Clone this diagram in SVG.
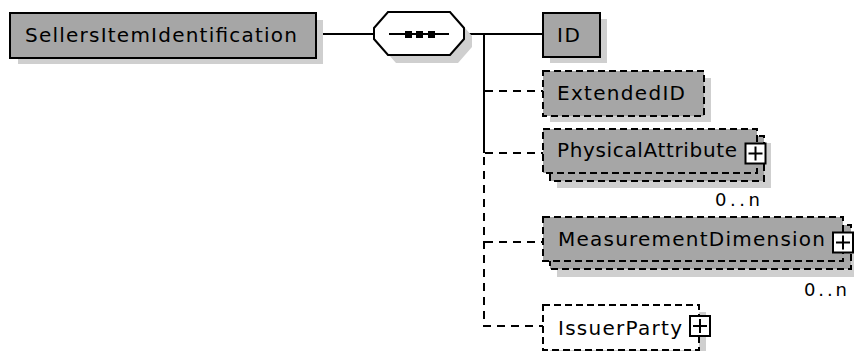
<svg xmlns="http://www.w3.org/2000/svg" width="854" height="351" viewBox="0 0 854 351">
<style>
.bg{fill:#ffffff}
.sh{fill:#cfcfcf;stroke:none}
.box{fill:#a6a6a6;stroke:#000;stroke-width:2}
.wbox{fill:#ffffff;stroke:#000;stroke-width:2}
.dash{stroke-dasharray:7 4}
.conn{stroke:#000;stroke-width:2;fill:none}
.dconn{stroke:#000;stroke-width:2;fill:none;stroke-dasharray:8 6}
.lbl{font-family:"DejaVu Sans","Liberation Sans",sans-serif;font-size:20px;fill:#000}
.occ{font-family:"DejaVu Sans","Liberation Sans",sans-serif;font-size:18px;fill:#000}
.plus{fill:#fff;stroke:#000;stroke-width:2}
.pl{stroke:#000;stroke-width:2}
</style>
<defs>
<g id="plusIcon">
<rect class="plus" x="-10" y="-10" width="20" height="20"/>
<line class="pl" x1="-7" y1="0" x2="7" y2="0"/>
<line class="pl" x1="0" y1="-7" x2="0" y2="7"/>
</g>
</defs>
<rect class="bg" x="0" y="0" width="854" height="351"/>

<g id="connectors">
<line class="conn" x1="316" y1="34" x2="374" y2="34"/>
<line class="conn" x1="464" y1="34" x2="543" y2="34"/>
<line class="conn" x1="484" y1="33" x2="484" y2="153"/>
<line class="dconn" x1="484" y1="157" x2="484" y2="326"/>
<line class="dconn" x1="485" y1="91" x2="543" y2="91"/>
<line class="dconn" x1="485" y1="153" x2="543" y2="153"/>
<line class="dconn" x1="485" y1="242" x2="543" y2="242"/>
<line class="dconn" x1="483" y1="326" x2="543" y2="326"/>
</g>

<g id="SellersItemIdentification">
<rect class="sh" x="18" y="20" width="305" height="44"/>
<rect class="box" x="10" y="13" width="306" height="45"/>
<text class="lbl" x="25" y="42" textLength="272" lengthAdjust="spacing">SellersItemIdentification</text>
</g>

<g id="sequence">
<polygon class="sh" points="382,36 396,20 458,20 472,36 472,47 458,63 396,63 382,47"/>
<polygon class="wbox" points="374,28 388,12 450,12 464,28 464,39 450,55 388,55 374,39"/>
<line class="conn" x1="389" y1="34" x2="449" y2="34"/>
<rect x="405" y="31" width="7" height="7" fill="#000"/>
<rect x="416" y="31" width="7" height="7" fill="#000"/>
<rect x="428" y="31" width="7" height="7" fill="#000"/>
</g>

<g id="ID">
<rect class="sh" x="550" y="19" width="57" height="44"/>
<rect class="box" x="543" y="13" width="57" height="44"/>
<text class="lbl" x="557" y="42" textLength="23" lengthAdjust="spacing">ID</text>
</g>

<g id="ExtendedID">
<rect class="sh" x="550" y="78" width="161" height="44"/>
<rect class="box dash" x="543" y="71" width="161" height="45"/>
<text class="lbl" x="557" y="100" textLength="128" lengthAdjust="spacing">ExtendedID</text>
</g>

<g id="PhysicalAttribute">
<rect class="sh" x="557" y="143" width="214" height="45"/>
<rect class="box dash" x="550" y="136" width="214" height="45"/>
<rect class="box dash" x="543" y="129" width="214" height="44"/>
<text class="lbl" x="557" y="157" textLength="180" lengthAdjust="spacing">PhysicalAttribute</text>
<use href="#plusIcon" x="755.5" y="153.5"/>
<text class="occ" x="715" y="206" textLength="45" lengthAdjust="spacing">0..n</text>
</g>

<g id="MeasurementDimension">
<rect class="sh" x="557" y="232" width="300" height="45"/>
<rect class="box dash" x="550" y="225" width="301" height="44"/>
<rect class="box dash" x="543" y="217" width="300" height="44"/>
<text class="lbl" x="558" y="246" textLength="267" lengthAdjust="spacing">MeasurementDimension</text>
<use href="#plusIcon" x="843" y="242.5"/>
<text class="occ" x="804" y="296" textLength="43" lengthAdjust="spacing">0..n</text>
</g>

<g id="IssuerParty">
<rect class="sh" x="550" y="312" width="156" height="45"/>
<rect class="wbox dash" x="543" y="305" width="156" height="45"/>
<text class="lbl" x="558" y="335" textLength="124" lengthAdjust="spacing">IssuerParty</text>
<use href="#plusIcon" x="700" y="326"/>
</g>
</svg>
